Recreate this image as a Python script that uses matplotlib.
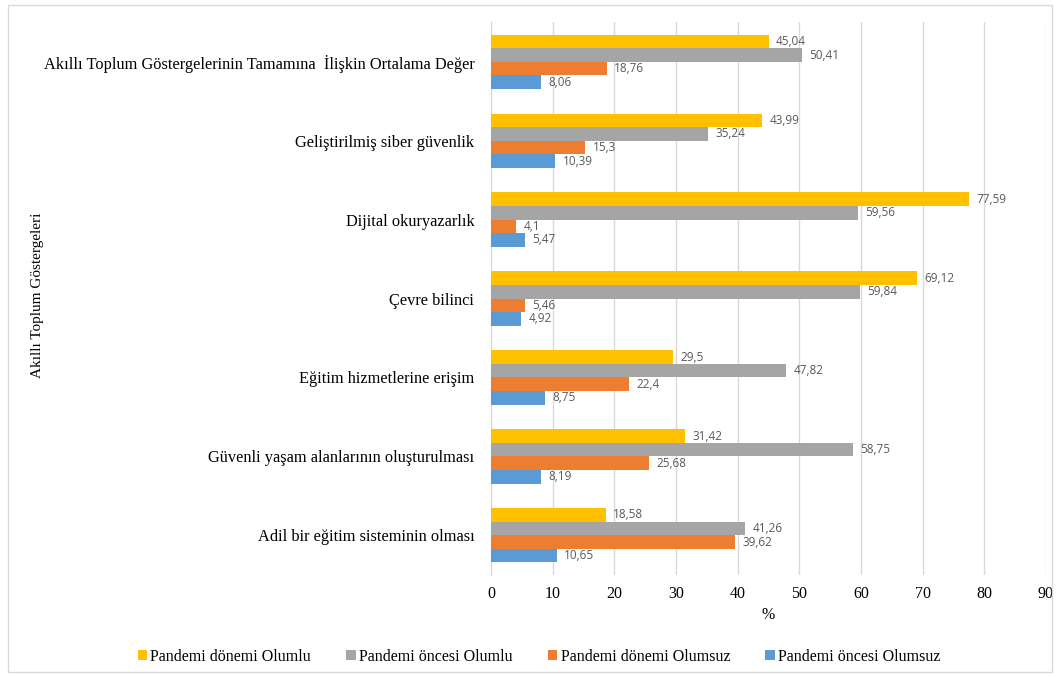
import matplotlib.pyplot as plt
import numpy as np
from matplotlib.patches import Rectangle

categories = [
    "Akıllı Toplum Göstergelerinin Tamamına  İlişkin Ortalama Değer",
    "Geliştirilmiş siber güvenlik",
    "Dijital okuryazarlık",
    "Çevre bilinci",
    "Eğitim hizmetlerine erişim",
    "Güvenli yaşam alanlarının oluşturulması",
    "Adil bir eğitim sisteminin olması",
]
series_names = ["Pandemi dönemi Olumlu", "Pandemi öncesi Olumlu",
                "Pandemi dönemi Olumsuz", "Pandemi öncesi Olumsuz"]
pd_olumlu = [45.04, 43.99, 77.59, 69.12, 29.5, 31.42, 18.58]
po_olumlu = [50.41, 35.24, 59.56, 59.84, 47.82, 58.75, 41.26]
pd_olumsuz = [18.76, 15.3, 4.1, 5.46, 22.4, 25.68, 39.62]
po_olumsuz = [8.06, 10.39, 5.47, 4.92, 8.75, 8.19, 10.65]
colors = ["#FFC000", "#A5A5A5", "#ED7D31", "#5B9BD5"]

fig = plt.figure(figsize=(10.59, 6.77), dpi=100)
ax = fig.add_axes([0.4636, 0.151, 0.5241, 0.816])

y = np.arange(len(categories))
h = 0.172
offsets = [-1.5 * h, -0.5 * h, 0.5 * h, 1.5 * h]
for vals, name, c, off in zip([pd_olumlu, po_olumlu, pd_olumsuz, po_olumsuz],
                              series_names, colors, offsets):
    bars = ax.barh(y + off, vals, height=h, color=c, label=name, zorder=3)
    for b, v in zip(bars, vals):
        ax.text(b.get_width() + 1.2, b.get_y() + b.get_height() / 2,
                f"{v:g}".replace(".", ","), va="center", ha="left",
                fontsize=8.5, color="#595959", family="Open Sans")

ax.set_ylim(len(categories) - 0.5, -0.5)
ax.set_xlim(0, 90)
ax.set_xticks(range(0, 91, 10))
ax.set_yticks(y)
ax.set_yticklabels(categories, family="Liberation Serif", fontsize=11.8)
for lab in ax.get_xticklabels():
    lab.set_family("Liberation Serif")
    lab.set_fontsize(11.5)
ax.tick_params(axis="x", length=0, pad=8)
ax.tick_params(axis="y", length=0, pad=12)
ax.grid(axis="x", color="#D9D9D9", linewidth=1, zorder=0)
for s in ["top", "right", "bottom"]:
    ax.spines[s].set_visible(False)
ax.spines["left"].set_color("#D9D9D9")
ax.set_xlabel("%", family="Liberation Serif", fontsize=11.5, labelpad=4)

fig.text(0.035, 0.564, "Akıllı Toplum Göstergeleri", rotation=90,
         va="center", ha="center", family="Liberation Serif", fontsize=11)

ax.legend(loc="center", bbox_to_anchor=(0.509, 0.03), bbox_transform=fig.transFigure,
          ncol=4, frameon=False, handlelength=0.6, handleheight=0.6,
          handletextpad=0.2, columnspacing=2.2,
          prop={"family": "Liberation Serif", "size": 11.5})

fig.patches.append(Rectangle((0.008, 0.008), 0.985, 0.984, transform=fig.transFigure,
                             fill=False, edgecolor="#D9D9D9", linewidth=1))

fig.savefig("out.png", dpi=100)
